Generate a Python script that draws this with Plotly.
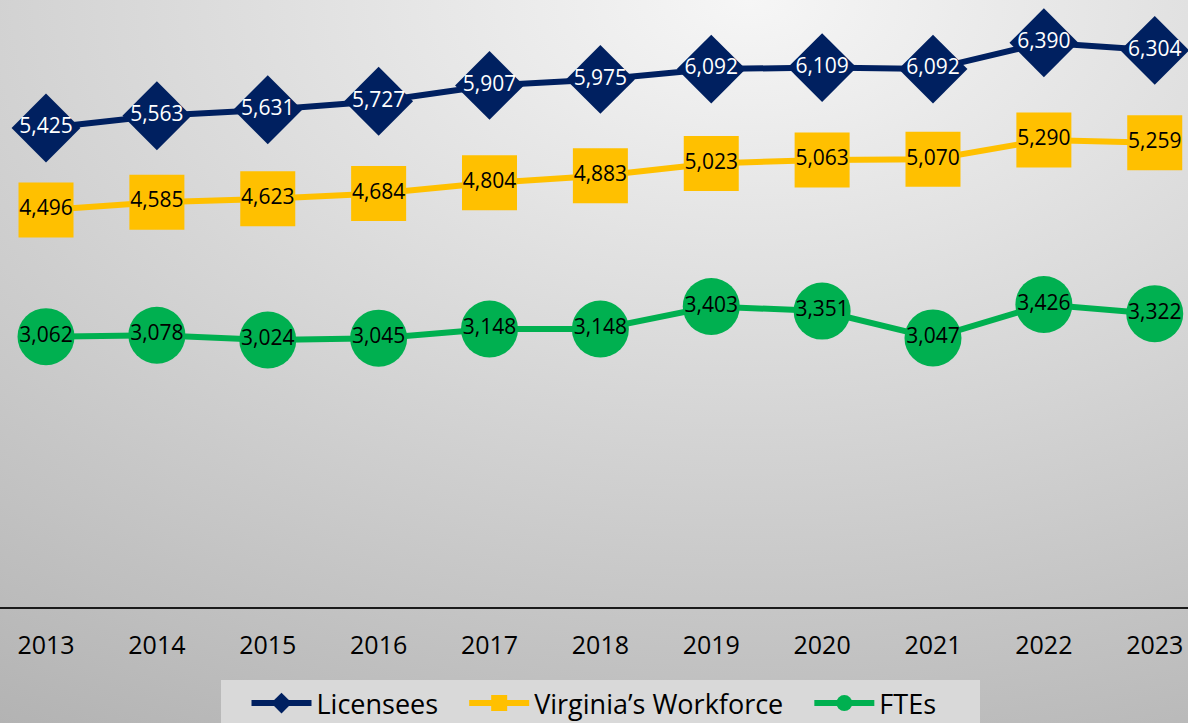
import base64
import plotly.graph_objects as go

years = ["2013", "2014", "2015", "2016", "2017", "2018", "2019", "2020", "2021", "2022", "2023"]
licensees = [5425, 5563, 5631, 5727, 5907, 5975, 6092, 6109, 6092, 6390, 6304]
workforce = [4496, 4585, 4623, 4684, 4804, 4883, 5023, 5063, 5070, 5290, 5259]
ftes = [3062, 3078, 3024, 3045, 3148, 3148, 3403, 3351, 3047, 3426, 3322]

W, H = 1188, 723
FONT = "Open Sans"
NB = "\u00a0"

svg = f'''<svg xmlns="http://www.w3.org/2000/svg" width="{W}" height="{H}" viewBox="0 0 {W} {H}" preserveAspectRatio="none">
<defs><radialGradient id="g" cx="0.63" cy="0" r="1.2" gradientUnits="objectBoundingBox">
<stop offset="0" stop-color="#f6f6f6"/><stop offset="1" stop-color="#b2b2b2"/></radialGradient></defs>
<rect x="0" y="0" width="{W}" height="{H}" fill="url(#g)"/></svg>'''
bg_src = "data:image/svg+xml;base64," + base64.b64encode(svg.encode()).decode()

def fmt(v):
    return f"{v:,}"

fig = go.Figure()
fig.add_trace(go.Scatter(
    x=years, y=licensees, name="Licensees" + NB * 3, mode="lines+markers+text",
    line=dict(color="#002060", width=6),
    marker=dict(symbol="diamond", size=53, color="#002060"),
    text=[fmt(v) for v in licensees], textposition="middle center",
    textfont=dict(family=FONT, size=21, color="white"), cliponaxis=False,
))
fig.add_trace(go.Scatter(
    x=years, y=workforce, name="Virginia’s Workforce" + NB * 3, mode="lines+markers+text",
    line=dict(color="#FFC000", width=6),
    marker=dict(symbol="square", size=55, color="#FFC000"),
    text=[fmt(v) for v in workforce], textposition="middle center",
    textfont=dict(family=FONT, size=21, color="black"), cliponaxis=False,
))
fig.add_trace(go.Scatter(
    x=years, y=ftes, name="FTEs", mode="lines+markers+text",
    line=dict(color="#00B050", width=6),
    marker=dict(symbol="circle", size=57, color="#00B050"),
    text=[fmt(v) for v in ftes], textposition="middle center",
    textfont=dict(family=FONT, size=21, color="black"), cliponaxis=False,
))

fig.update_layout(
    width=W, height=H,
    margin=dict(l=0, r=0, t=0, b=0, autoexpand=False),
    paper_bgcolor="#c8c8c8",
    plot_bgcolor="rgba(0,0,0,0)",
    font=dict(family=FONT, color="black"),
    images=[dict(source=bg_src, xref="paper", yref="paper", x=0, y=1,
                 sizex=1, sizey=1, xanchor="left", yanchor="top",
                 sizing="stretch", layer="below")],
    shapes=[dict(type="rect", xref="paper", yref="paper",
                 x0=221 / W, x1=980 / W, y0=0, y1=1 - 680 / H,
                 fillcolor="#d9d9d9", line=dict(width=0), layer="below")],
    xaxis=dict(
        type="category", range=[-0.415, 10.3], domain=[0, 1],
        showgrid=False, showline=True, linecolor="#1a1a1a", linewidth=2,
        ticks="", tickfont=dict(family=FONT, size=25, color="black"),
        ticklabelstandoff=15, zeroline=False, automargin=False,
    ),
    yaxis=dict(
        range=[0, 607 / 0.0883], domain=[1 - 607 / H, 1],
        visible=False, showgrid=False, zeroline=False,
    ),
    showlegend=True,
    legend=dict(
        orientation="h", x=0.5, xanchor="center", y=1 - 679 / H, yanchor="top",
        bgcolor="rgba(0,0,0,0)", font=dict(family=FONT, size=27, color="black"),
        itemwidth=60, tracegroupgap=0,
    ),
)

fig.write_html(
    "out.html",
    config={"displayModeBar": False},
    post_script="document.body.style.margin='0';document.body.style.padding='0';"
                "document.documentElement.style.overflow='hidden';document.body.style.overflow='hidden';",
)
